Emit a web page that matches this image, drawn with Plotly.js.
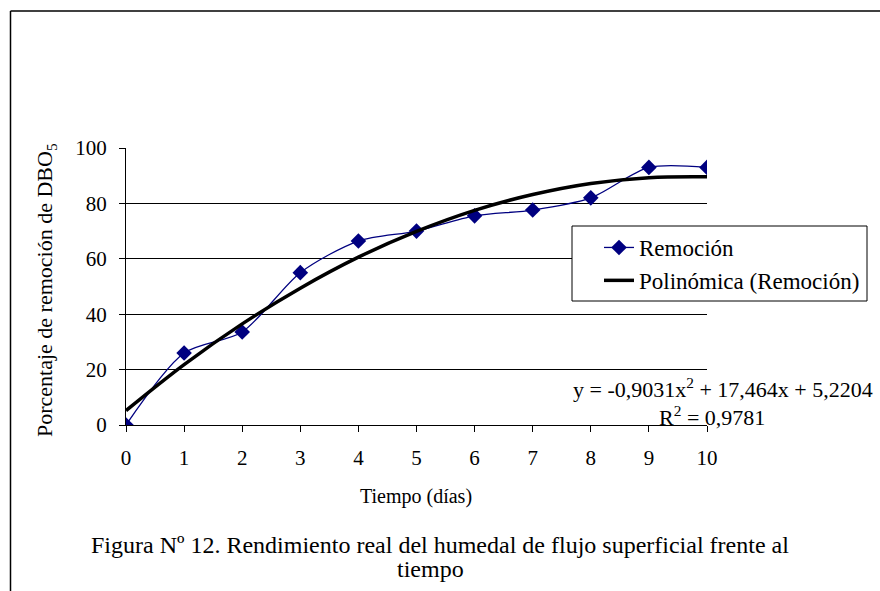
<!DOCTYPE html>
<html>
<head>
<meta charset="utf-8">
<script src="https://cdn.plot.ly/plotly-3.0.1.min.js"></script>
<style>
html,body{margin:0;padding:0;background:#fff;}
#chart{width:880px;height:591px;}
</style>
</head>
<body>
<div id="chart"></div>
<script>
// Data
const dias = [0, 1, 2, 3, 4, 5, 6, 7, 8, 9, 10];
const remocion = [0, 26, 33.6, 55, 66.4, 70, 75.5, 77.6, 82, 93, 93];
const polinomica = [5.2, 21.8, 36.5, 49.4, 60.6, 69.9, 77.5, 83.2, 87.2, 89.3, 89.6];
const yTicks = [0, 20, 40, 60, 80, 100];
const xTicks = [0, 1, 2, 3, 4, 5, 6, 7, 8, 9, 10];
const labelRemocion = "Remoción";
const labelPoli = "Polinómica (Remoción)";
const yTitle = "Porcentaje de remoción de DBO<sub>5</sub>";
const xTitle = "Tiempo (días)";
const ecuacion1 = "y = -0,9031x<sup>2</sup> + 17,464x + 5,2204";
const ecuacion2 = "R<sup>2</sup> = 0,9781";
const caption1 = "Figura Nº 12. Rendimiento real del humedal de flujo superficial frente al";
const caption2 = "tiempo";

const FONT = "Liberation Serif";

const traces = [
  {
    x: dias, y: remocion, name: labelRemocion, type: "scatter", mode: "lines+markers",
    legendgroup: "a",
    line: {color: "#000080", width: 1.3, shape: "spline", smoothing: 0.8},
    marker: {symbol: "diamond", size: 12, color: "#000080"}
  },
  {
    x: dias, y: polinomica, name: labelPoli, type: "scatter", mode: "lines",
    legendgroup: "b",
    line: {color: "#000000", width: 3.5, shape: "spline", smoothing: 1}
  }
];

// pixel -> paper helpers (plot area: x 126..707, y 148..425)
const px = v => (v - 126) / 581;
const py = v => (425 - v) / 277;

const layout = {
  width: 880, height: 591,
  margin: {l: 126, r: 173, t: 148, b: 166},
  paper_bgcolor: "#fff", plot_bgcolor: "#fff",
  font: {family: FONT, size: 21, color: "#000"},
  showlegend: true,
  legend: {
    x: px(599), y: py(226), xanchor: "left", yanchor: "top",
    borderwidth: 0, bgcolor: "rgba(0,0,0,0)",
    font: {family: FONT, size: 23, color: "#000"},
    tracegroupgap: 0, traceorder: "grouped"
  },
  xaxis: {
    range: [0, 10], tickvals: xTicks, ticktext: xTicks.map(String),
    showgrid: false, zeroline: false, showline: true, linecolor: "#000", linewidth: 1,
    ticks: "outside", ticklen: 6, tickcolor: "#000", ticklabelstandoff: 8,
    tickfont: {family: FONT, size: 21, color: "#000"}, fixedrange: true
  },
  yaxis: {
    range: [0, 100], tickvals: yTicks, ticktext: yTicks.map(String),
    showgrid: true, gridcolor: "#000", gridwidth: 1,
    zeroline: false, showline: true, linecolor: "#000", linewidth: 1,
    ticks: "outside", ticklen: 6, tickcolor: "#000", ticklabelstandoff: 8,
    tickfont: {family: FONT, size: 21, color: "#000"}, fixedrange: true
  },
  annotations: [
    {text: yTitle, xref: "paper", yref: "paper", x: px(46), y: py(290), textangle: -90,
     showarrow: false, xanchor: "center", yanchor: "middle", font: {family: FONT, size: 22}},
    {text: xTitle, xref: "paper", yref: "paper", x: px(416), y: py(496),
     showarrow: false, xanchor: "center", yanchor: "middle", font: {family: FONT, size: 20}},
    {text: ecuacion1, xref: "paper", yref: "paper", x: px(875), y: py(388), align: "right",
     showarrow: false, xanchor: "right", yanchor: "middle", font: {family: FONT, size: 22}},
    {text: ecuacion2, xref: "paper", yref: "paper", x: px(712), y: py(416), align: "center",
     showarrow: false, xanchor: "center", yanchor: "middle", font: {family: FONT, size: 22}},
    {text: caption1, xref: "paper", yref: "paper", x: px(440), y: py(545), align: "center",
     showarrow: false, xanchor: "center", yanchor: "middle", font: {family: FONT, size: 24}},
    {text: caption2, xref: "paper", yref: "paper", x: px(430), y: py(569), align: "center",
     showarrow: false, xanchor: "center", yanchor: "middle", font: {family: FONT, size: 24}}
  ],
  shapes: [
    // legend frame
    {type: "rect", xref: "paper", yref: "paper", x0: px(572), x1: px(867), y0: py(226), y1: py(301),
     line: {color: "#000", width: 1}, fillcolor: "#fff", layer: "above"},
    // outer frame (top and left edges)
    {type: "line", xref: "paper", yref: "paper", x0: px(10.5), x1: px(882), y0: py(11), y1: py(11),
     line: {color: "#000", width: 1.5}},
    {type: "line", xref: "paper", yref: "paper", x0: px(10.5), x1: px(10.5), y0: py(11), y1: py(595),
     line: {color: "#000", width: 1.5}}
  ]
};

Plotly.newPlot("chart", traces, layout, {displayModeBar: false, staticPlot: true});
</script>
</body>
</html>
